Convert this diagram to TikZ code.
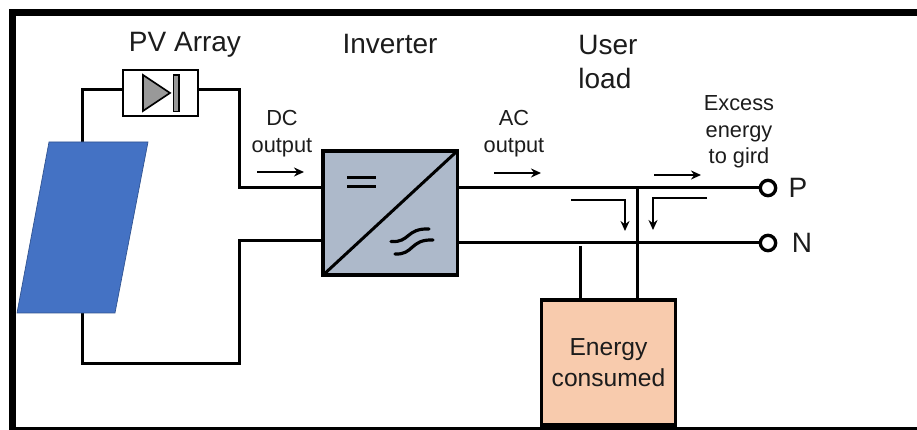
\documentclass[tikz,border=0pt]{standalone}
\usepackage{fontspec}
\setmainfont{Liberation Sans}
\usetikzlibrary{arrows.meta,positioning,calc}
\definecolor{panelblue}{HTML}{4472C4}
\definecolor{panelline}{HTML}{2F528F}
\definecolor{invgray}{HTML}{ADB9CA}
\definecolor{loadskin}{HTML}{F8CBAD}
\definecolor{txtgray}{HTML}{1C1C1C}
\tikzset{
	wire/.style={draw=black,line width=0.9mm},
	flow/.style={draw=black,line width=0.55mm,-{Stealth[length=3mm,width=2.7mm]}},
	wave/.style={draw=black,line width=0.95mm,line cap=round},
	biglabel/.style={inner sep=0pt,align=left,text=txtgray,font=\fontsize{23.9}{29}\selectfont},
	smalllabel/.style={inner sep=0pt,align=center,text=txtgray,font=\fontsize{18.6}{23}\selectfont},
	loadlabel/.style={align=center,text=txtgray,font=\fontsize{21}{26.4}\selectfont},
	terminal/.style={circle,draw=black,fill=white,line width=1mm,minimum size=0.46cm,inner sep=0pt},
}
\begin{document}
\begin{tikzpicture}[x=0.03cm,y=-0.03cm]
	\useasboundingbox (0,0) rectangle (917,430);
	% frame
	\draw[line width=2.1mm] (917,12.5) -- (12.5,12.5) -- (12.5,430);
	\draw[line width=0.8mm] (9,428.7) -- (917,428.7);

	\node[draw,line width=0.6mm,fill=white,minimum width=2.25cm,minimum height=1.38cm,inner sep=0pt] (diode) at (160.5,93) {};
	\node[draw,line width=1.05mm,fill=invgray,minimum width=4.03cm,minimum height=3.72cm,inner sep=0pt] (inv) at (390.2,213) {};
	\node[draw,line width=1.05mm,fill=loadskin,minimum width=4.02cm,minimum height=3.75cm,inner sep=0pt,loadlabel] (load) at (608.5,362.5) {Energy\\consumed};
	\node[terminal] (P) at (768,188) {};
	\node[terminal] (N) at (768,243) {};

	% corners and taps of the wires
	\coordinate (panelT) at (82,142);
	\coordinate (panelB) at (82,313);
	\coordinate (cornerA) at (82,90);
	\coordinate (cornerB) at (239,90);
	\coordinate (cornerC) at (239,188);
	\coordinate (cornerD) at (82,364);
	\coordinate (cornerE) at (239,364);
	\coordinate (cornerF) at (239,241);
	\coordinate (tapP) at (637,188);
	\coordinate (tapN) at (580,246);

	\draw[wire] (panelT) -- (cornerA) -- (diode.west |- cornerA);
	\draw[wire] (diode.east |- cornerB) -- (cornerB) -- (cornerC) -- (inv.west |- cornerC);
	\draw[wire] (panelB) -- (cornerD) -- (cornerE) -- (cornerF) -- (inv.west |- cornerF);
	\draw[wire] (inv.east |- P) -- (P);
	\draw[wire] (inv.east |- N) -- (N);
	\draw[wire] (tapP) -- (load.north -| tapP);
	\draw[wire] (tapN) -- (load.north -| tapN);

	% solar panel
	\draw[fill=panelblue,draw=panelline,line width=0.2mm] (49,142) -- (148,142) -- (115,313) -- (17,313) -- cycle;

	% diode symbol
	\draw[fill=black!40,line width=0.5mm] (143,75) -- (170,93) -- (143,111) -- cycle;
	\draw[fill=black!40,line width=0.4mm] (173.5,75) rectangle (179,111.5);

	% inverter symbols
	\draw[line width=0.9mm,shorten >=0.6mm,shorten <=0.6mm] (inv.south west) -- (inv.north east);
	\draw[line width=0.9mm] (347,177.5) -- (376,177.5);
	\draw[line width=0.9mm] (347,187) -- (376,187);
	\draw[wave] (391,241.5) .. controls (410,243) and (406,228) .. (429,229);
	\draw[wave] (395,254) .. controls (414,255) and (410,239) .. (433,240);

	% flow arrows
	\coordinate (dcA) at (257,172);
	\coordinate (dcB) at (304,172);
	\coordinate (acA) at (494,173);
	\coordinate (acB) at (541,173);
	\coordinate (exA) at (654,175);
	\coordinate (exB) at (701,175);
	\coordinate (downA) at (571,200);
	\coordinate (downB) at (625,200);
	\coordinate (downC) at (625,231);
	\coordinate (downD) at (707,198);
	\coordinate (downE) at (653,198);
	\coordinate (downF) at (653,230);
	\draw[flow] (dcA) -- (dcB);
	\draw[flow] (acA) -- (acB);
	\draw[flow] (exA) -- (exB);
	\draw[flow] (downA) -- (downB) -- (downC);
	\draw[flow] (downD) -- (downE) -- (downF);

	% labels
	\node[biglabel] (pvLabel) at (185,45) {PV Array};
	\node[biglabel] (invLabel) at (390,44) {Inverter};
	\node[biglabel] (userLabel) at (608,62) {User\\load};
	\node[smalllabel] (dcLabel) at (282,134) {DC\\output};
	\node[smalllabel] (acLabel) at (514,134) {AC\\output};
	\node[smalllabel,font=\fontsize{18.6}{22.6}\selectfont] (exLabel) at (739,132) {Excess\\energy\\to gird};
	\node[biglabel] (pLabel) at (798,188) {P};
	\node[biglabel] (nLabel) at (802,243) {N};
\end{tikzpicture}
\end{document}
